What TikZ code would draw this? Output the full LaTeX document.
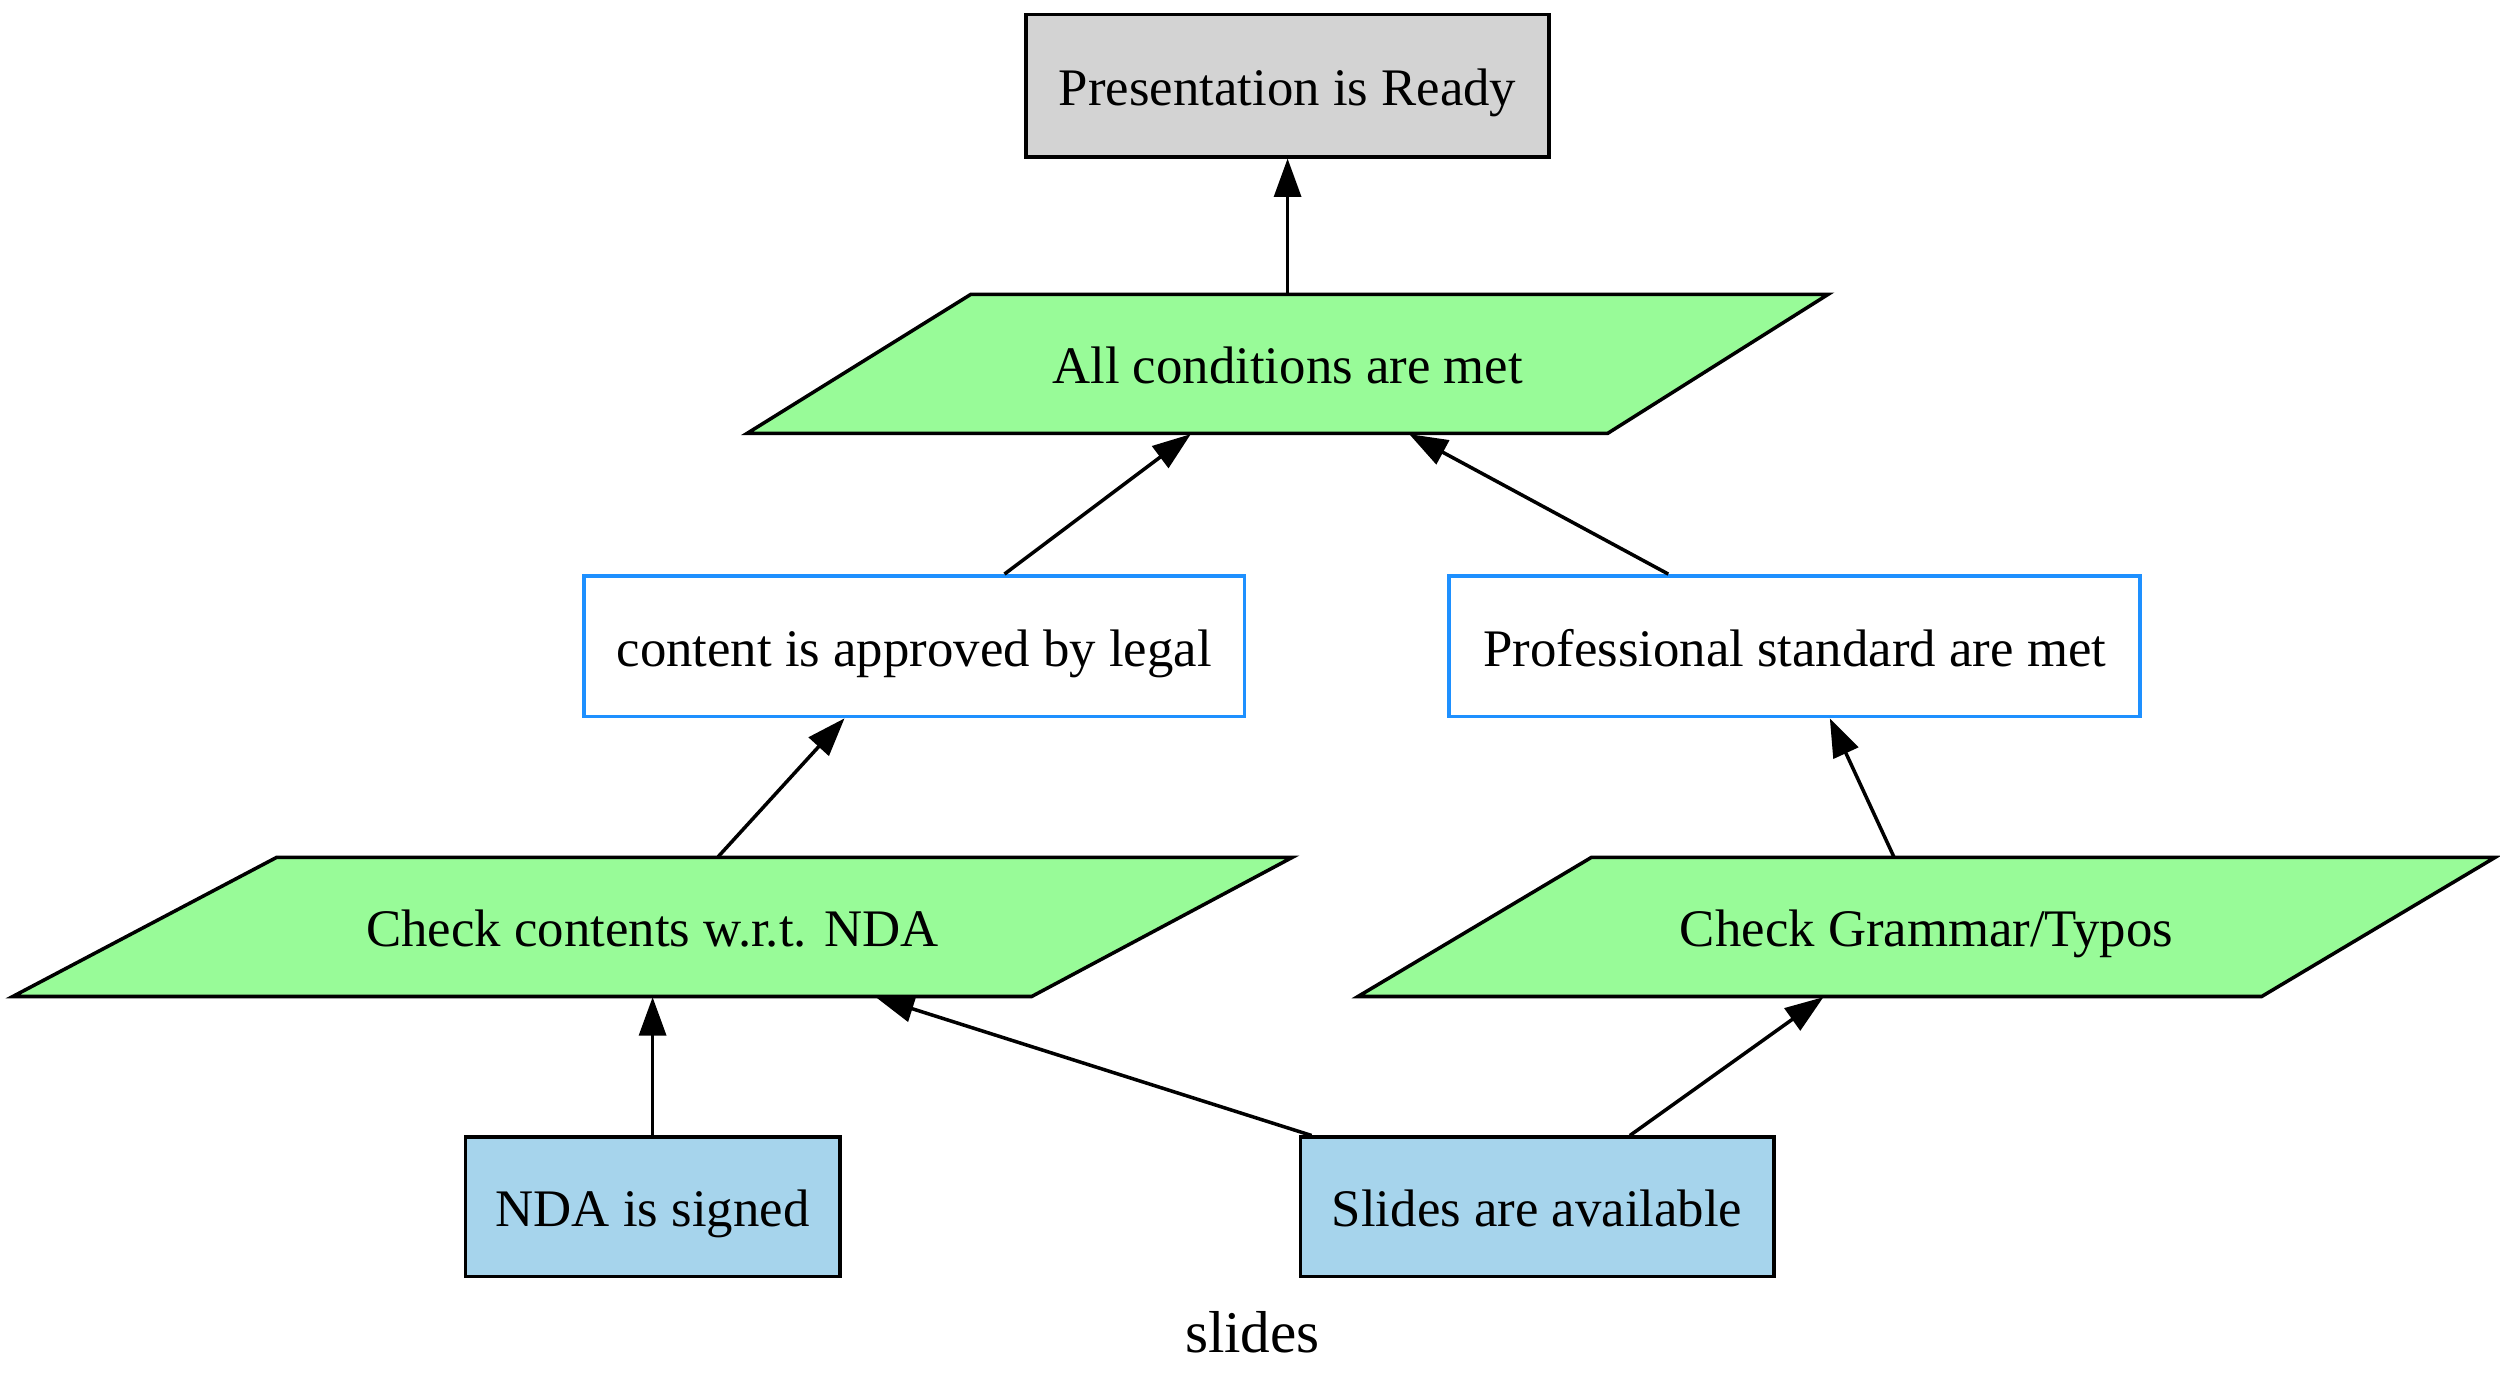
\documentclass[tikz,border=0pt]{standalone}
\usepackage{fontspec}
\setmainfont{Liberation Serif}
\usetikzlibrary{arrows.meta}
\definecolor{boxgray}{HTML}{D3D3D3}
\definecolor{palegreen}{HTML}{98FB98}
\definecolor{dodger}{HTML}{1E90FF}
\definecolor{skybox}{HTML}{A6D4EC}
\tikzset{
  lbl/.style={font=\fontsize{16.5pt}{19pt}\selectfont, inner sep=0pt, text height=14pt, text depth=1.5pt},
  box/.style={lbl, draw, line width=1.1pt, rectangle},
  parabox/.style={lbl, rectangle, minimum height=43.5pt},
  para/.style={draw=black, fill=palegreen, line width=1.1pt, line join=miter},
  arr/.style={line width=1.1pt, -{Triangle[length=12pt,width=8.4pt]}}
}
\begin{document}
\begin{tikzpicture}[x=0.5pt,y=-0.5pt]
\useasboundingbox (0,0) rectangle (1563,867);
% boxes
\node[box, fill=boxgray, minimum width=163.5pt, minimum height=44.5pt] (ready) at (805,53.5) {Presentation is Ready};
\node[box, draw=dodger, fill=white, minimum width=206.5pt, minimum height=44pt] (content) at (571.5,404) {content is approved by legal};
\node[box, draw=dodger, fill=white, minimum width=216pt, minimum height=44pt] (prof) at (1122,404) {Professional standard are met};
\node[box, fill=skybox, minimum width=117pt, minimum height=43.5pt] (signed) at (408,754.5) {NDA is signed};
\node[box, fill=skybox, minimum width=148pt, minimum height=43.5pt] (slidesok) at (961,754.5) {Slides are available};
% parallelograms
\draw[para] (607,184) -- (1143,184) -- (1005,271) -- (467,271) -- cycle;
\node[parabox] (all) at (805,227.5) {All conditions are met};
\draw[para] (173,536) -- (808,536) -- (645,623) -- (8,623) -- cycle;
\node[parabox] (ndac) at (408,579.5) {Check contents w.r.t. NDA};
\draw[para] (995,536) -- (1560,536) -- (1414,623) -- (849,623) -- cycle;
\node[parabox] (gram) at (1204.5,579.5) {Check Grammar/Typos};
% caption
\node[lbl, font=\fontsize{18.5pt}{21pt}\selectfont] (cap) at (783,833) {slides};
% edges
\draw[arr] (all.north) -- (ready.south);
\draw[arr] ([xshift=28.25pt]content.north) -- ([xshift=-30.25pt]all.south);
\draw[arr] ([xshift=-39.5pt]prof.north) -- ([xshift=38pt]all.south);
\draw[arr] ([xshift=20.5pt]ndac.north) -- ([xshift=-21.75pt]content.south);
\draw[arr] ([xshift=-10.25pt]gram.north) -- ([xshift=11pt]prof.south);
\draw[arr] (signed.north) -- (ndac.south);
\draw[arr] ([xshift=-70.5pt]slidesok.north) -- ([xshift=69.75pt]ndac.south);
\draw[arr] ([xshift=29pt]slidesok.north) -- ([xshift=-32.25pt]gram.south);
\end{tikzpicture}
\end{document}
